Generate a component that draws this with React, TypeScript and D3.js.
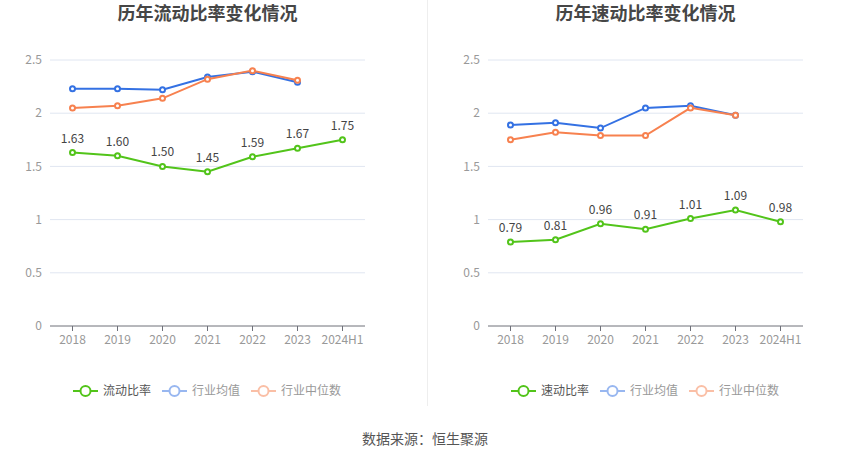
import React from 'react';
import * as d3 from 'd3';

const years = ['2018', '2019', '2020', '2021', '2022', '2023', '2024H1'];
const yTicks = [0, 0.5, 1, 1.5, 2, 2.5];

// 流动比率
const currentRatio = [1.63, 1.6, 1.5, 1.45, 1.59, 1.67, 1.75];
const currentAvg = [2.23, 2.23, 2.22, 2.34, 2.39, 2.29];
const currentMedian = [2.05, 2.07, 2.14, 2.32, 2.4, 2.31];

// 速动比率
const quickRatio = [0.79, 0.81, 0.96, 0.91, 1.01, 1.09, 0.98];
const quickAvg = [1.89, 1.91, 1.86, 2.05, 2.07, 1.98];
const quickMedian = [1.75, 1.82, 1.79, 1.79, 2.05, 1.98];

const GREEN = '#52c41a';
const BLUE = '#3471e3';
const ORANGE = '#f7814f';
const FONT = '"Noto Sans CJK SC", "Noto Sans", sans-serif';

interface PanelProps {
  left: number;
  title: string;
  name: string;
  main: number[];
  avg: number[];
  median: number[];
}

function Panel({ left, title, name, main, avg, median }: PanelProps) {
  const width = 315;
  const x = d3.scaleBand<string>().domain(years).range([left, left + width]);
  const y = d3.scaleLinear().domain([0, 2.5]).range([326, 60]);
  const cx = (i: number) => (x(years[i]) as number) + x.bandwidth() / 2;

  const line = d3
    .line<number>()
    .x((_, i) => cx(i))
    .y(d => y(d));

  const series = [
    { values: avg, color: BLUE },
    { values: median, color: ORANGE },
    { values: main, color: GREEN },
  ];

  const legend = [
    { label: name, color: GREEN, text: '#555', opacity: 1, off: 23 },
    { label: '行业均值', color: BLUE, text: '#999', opacity: 0.5, off: 112 },
    { label: '行业中位数', color: ORANGE, text: '#999', opacity: 0.5, off: 201 },
  ];

  return (
    <g fontFamily={FONT}>
      <text
        x={left + width / 2}
        y={20}
        textAnchor="middle"
        fontSize={18}
        fontWeight="bold"
        fill="#464646"
      >
        {title}
      </text>

      {/* grid + y labels */}
      {yTicks.map(t => (
        <g key={t}>
          {t > 0 && (
            <line x1={left} x2={left + width} y1={y(t)} y2={y(t)} stroke="#e0e6f1" />
          )}
          <text
            x={left - 8}
            y={y(t)}
            dy="0.35em"
            textAnchor="end"
            fontSize={12}
            fill="#999"
          >
            {t}
          </text>
        </g>
      ))}

      {/* x axis */}
      <line x1={left} x2={left + width} y1={y(0)} y2={y(0)} stroke="#6e7079" />
      {years.map((yr, i) => (
        <g key={yr}>
          <line x1={cx(i)} x2={cx(i)} y1={y(0)} y2={y(0) + 5} stroke="#6e7079" />
          <text x={cx(i)} y={y(0) + 14} dy="0.35em" textAnchor="middle" fontSize={12} fill="#999">
            {yr}
          </text>
        </g>
      ))}

      {/* lines */}
      {series.map((s, si) => (
        <g key={si}>
          <path d={line(s.values) || ''} fill="none" stroke={s.color} strokeWidth={2} />
          {s.values.map((v, i) => (
            <circle key={i} cx={cx(i)} cy={y(v)} r={2.5} fill="#fff" stroke={s.color} strokeWidth={2} />
          ))}
        </g>
      ))}

      {/* value labels */}
      {main.map((v, i) => (
        <text key={i} x={cx(i)} y={y(v) - 10} textAnchor="middle" fontSize={12} fill="#444">
          {v.toFixed(2)}
        </text>
      ))}

      {/* legend */}
      {legend.map(l => (
        <g key={l.label} transform={`translate(${left + l.off},391)`}>
          <g opacity={l.opacity}>
            <line x1={0} x2={25} y1={0} y2={0} stroke={l.color} strokeWidth={2} />
            <circle cx={12.5} cy={0} r={5} fill="#fff" stroke={l.color} strokeWidth={2} />
          </g>
          <text x={30} y={0} dy="0.35em" fontSize={12} fill={l.text}>
            {l.label}
          </text>
        </g>
      ))}
    </g>
  );
}

export default function App() {
  return (
    <svg
      width={850}
      height={459}
      style={{ position: 'absolute', left: 0, top: 0, background: '#fff' }}
    >
      <rect width={850} height={459} fill="#fff" />
      <line x1={427.5} x2={427.5} y1={0} y2={406} stroke="#eeeeee" />
      <Panel
        left={50}
        title="历年流动比率变化情况"
        name="流动比率"
        main={currentRatio}
        avg={currentAvg}
        median={currentMedian}
      />
      <Panel
        left={488}
        title="历年速动比率变化情况"
        name="速动比率"
        main={quickRatio}
        avg={quickAvg}
        median={quickMedian}
      />
      <text
        x={425}
        y={439}
        dy="0.35em"
        textAnchor="middle"
        fontSize={14}
        fill="#555"
        fontFamily={FONT}
      >
        数据来源：恒生聚源
      </text>
    </svg>
  );
}
